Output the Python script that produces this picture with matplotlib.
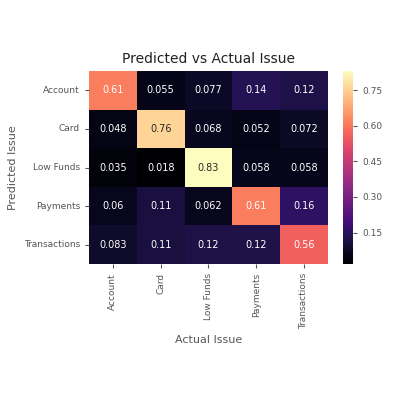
import matplotlib
matplotlib.use("Agg")
import matplotlib.pyplot as plt
import numpy as np
import seaborn as sns

labels = ["Account", "Card", "Low Funds", "Payments", "Transactions"]
row_account = [0.61, 0.055, 0.077, 0.14, 0.12]
row_card = [0.048, 0.76, 0.068, 0.052, 0.072]
row_low_funds = [0.035, 0.018, 0.83, 0.058, 0.058]
row_payments = [0.06, 0.11, 0.062, 0.61, 0.16]
row_transactions = [0.083, 0.11, 0.12, 0.12, 0.56]
cbar_ticks = [0.15, 0.30, 0.45, 0.60, 0.75]

matrix = np.array([row_account, row_card, row_low_funds, row_payments, row_transactions])

fig = plt.figure(figsize=(3.97, 3.97), dpi=100)
ax = fig.add_axes([0.224, 0.335, 0.602, 0.486])
cax = fig.add_axes([0.864, 0.335, 0.025, 0.486])

sns.heatmap(matrix, annot=True, cmap="magma", ax=ax, cbar_ax=cax,
            xticklabels=labels, yticklabels=labels,
            annot_kws={"fontsize": 7})

gray = "#555555"
ax.set_title("Predicted vs Actual Issue", fontsize=10, color="#222222")
ax.set_xlabel("Actual Issue", fontsize=8, color=gray)
ax.set_ylabel("Predicted Issue", fontsize=8, color=gray)
ax.tick_params(axis="both", labelsize=6.5, colors=gray, length=3)
plt.setp(ax.get_xticklabels(), rotation=90)
plt.setp(ax.get_yticklabels(), rotation=0)

cax.set_yticks(cbar_ticks)
cax.set_yticklabels([f"{t:.2f}" for t in cbar_ticks])
cax.tick_params(labelsize=6.5, colors=gray, length=3)

fig.savefig("out.png", dpi=100, facecolor="white")
